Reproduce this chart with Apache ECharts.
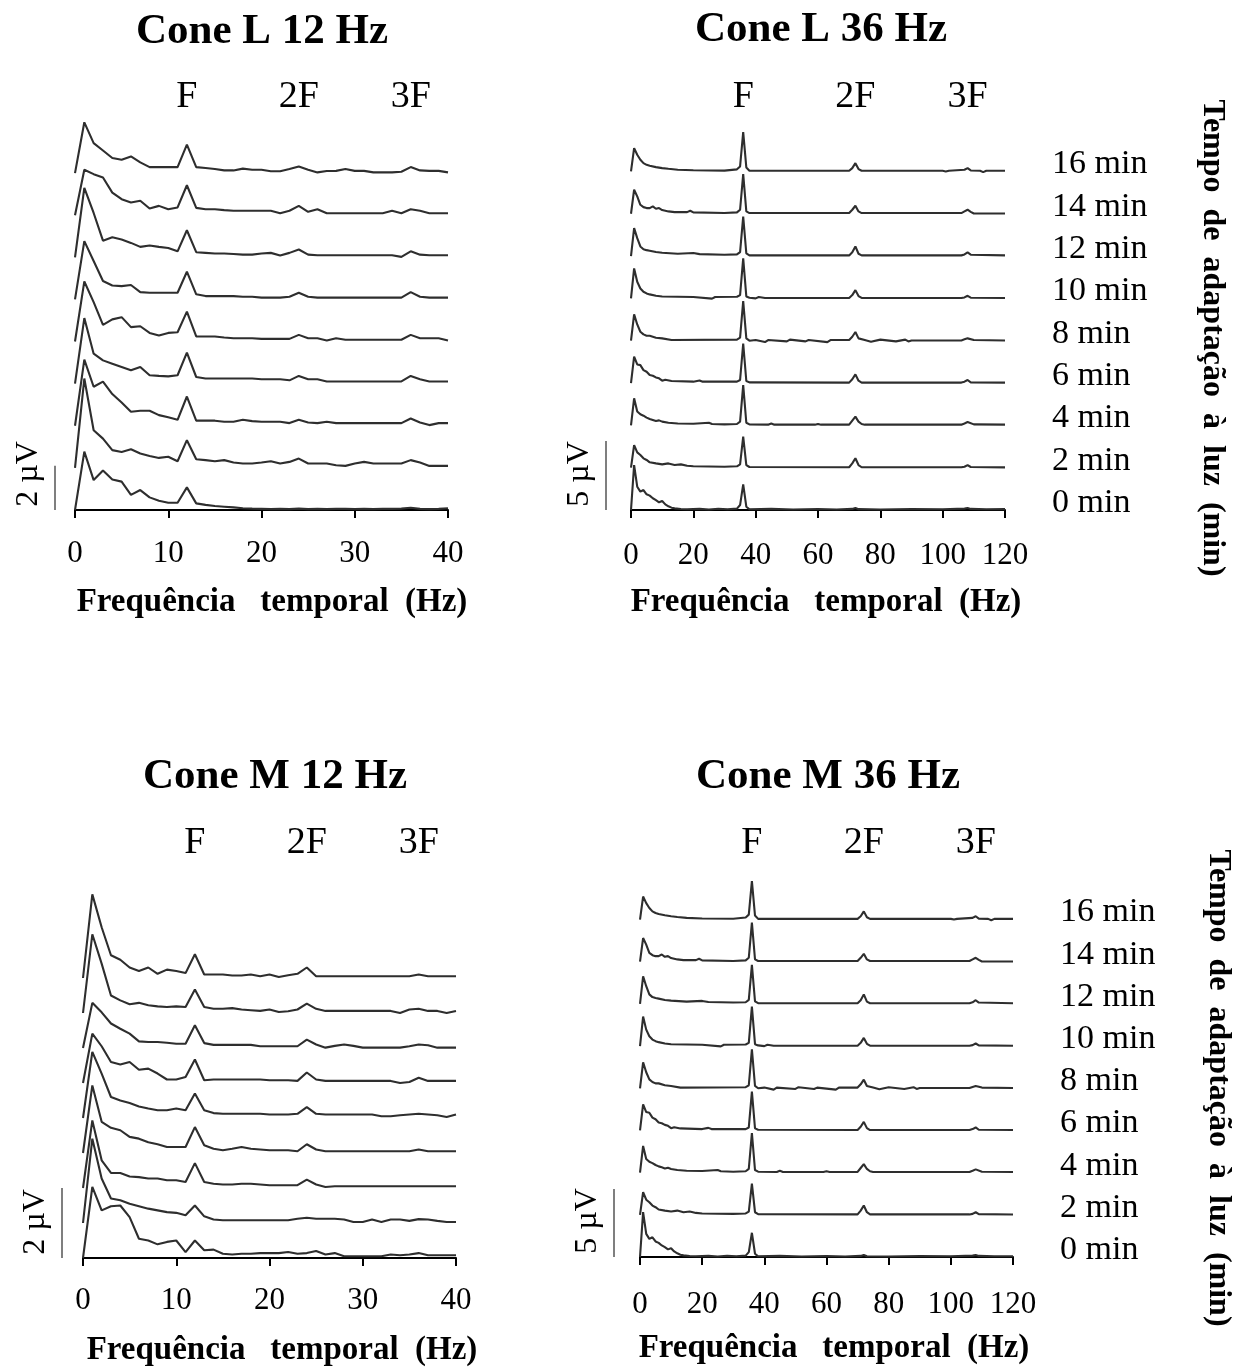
<!DOCTYPE html>
<html><head><meta charset="utf-8">
<script src="https://cdn.jsdelivr.net/npm/echarts@6/dist/echarts.min.js"></script>
<style>html,body{margin:0;padding:0;background:#fff}#c{width:1246px;height:1368px}</style>
</head><body><div id="c"></div>
<script>
// ---------- categories / labels ----------
const MIN_LABELS = ['0 min','2 min','4 min','6 min','8 min','10 min','12 min','14 min','16 min'];
const HARM_LABELS = ['F','2F','3F'];
const AXIS_NAME = 'Frequência   temporal  (Hz)';
const ADAPT_NAME = 'Tempo  de  adaptação  à  luz  (min)';
const TITLES = ['Cone L 12 Hz','Cone L 36 Hz','Cone M 12 Hz','Cone M 36 Hz'];

// ---------- Cone L 12 Hz : amplitude (µV) at 0,1,2,...,40 Hz ----------
const L12_0  = [0,2.63,1.35,1.78,1.38,1.28,0.68,0.90,0.57,0.42,0.33,0.33,1.02,0.30,0.23,0.18,0.15,0.12,0.08,0.06,0.05,0.04,0.05,0.04,0.06,0.04,0.05,0.04,0.05,0.05,0.04,0.05,0.04,0.05,0.05,0.06,0.10,0.05,0.04,0.05,0.08];
const L12_2  = [0,4.03,1.70,1.32,0.80,0.72,0.84,0.65,0.54,0.45,0.50,0.30,1.25,0.39,0.35,0.30,0.35,0.24,0.20,0.20,0.24,0.30,0.20,0.27,0.42,0.20,0.20,0.20,0.12,0.09,0.20,0.27,0.20,0.20,0.20,0.20,0.35,0.24,0.09,0.09,0.09];
const L12_4  = [0,2.98,1.76,1.99,1.43,1.05,0.63,0.68,0.68,0.48,0.38,0.27,1.32,0.23,0.23,0.23,0.18,0.18,0.27,0.21,0.18,0.18,0.18,0.12,0.27,0.15,0.12,0.18,0.12,0.12,0.12,0.12,0.12,0.12,0.12,0.12,0.33,0.15,0.03,0.12,0.12];
const L12_6  = [0,2.96,1.35,1.05,0.90,0.75,0.60,0.75,0.38,0.35,0.33,0.38,1.40,0.30,0.23,0.23,0.23,0.23,0.23,0.23,0.20,0.20,0.20,0.15,0.35,0.20,0.20,0.10,0.10,0.10,0.10,0.10,0.10,0.10,0.10,0.10,0.35,0.20,0.10,0.10,0.10];
const L12_8  = [0,2.71,1.78,0.75,1.00,1.10,0.65,0.69,0.39,0.27,0.39,0.42,1.35,0.23,0.23,0.23,0.18,0.15,0.15,0.15,0.12,0.12,0.12,0.12,0.30,0.15,0.15,0.05,0.15,0.08,0.08,0.08,0.08,0.08,0.08,0.08,0.30,0.15,0.15,0.15,0.05];
const L12_10 = [0,2.63,1.73,0.83,0.63,0.60,0.65,0.33,0.30,0.30,0.30,0.30,1.25,0.23,0.15,0.15,0.15,0.15,0.12,0.12,0.08,0.08,0.08,0.12,0.30,0.12,0.08,0.08,0.08,0.08,0.08,0.08,0.08,0.08,0.08,0.08,0.33,0.12,0.08,0.08,0.08];
const L12_12 = [0,3.13,2.00,0.75,0.90,0.80,0.65,0.47,0.53,0.47,0.42,0.27,1.22,0.23,0.20,0.17,0.17,0.15,0.12,0.12,0.17,0.20,0.08,0.20,0.35,0.12,0.09,0.09,0.09,0.09,0.09,0.09,0.09,0.09,0.09,0.02,0.27,0.12,0.09,0.09,0.09];
const L12_14 = [0,2.05,1.85,1.70,1.02,0.72,0.57,0.65,0.30,0.42,0.27,0.35,1.35,0.33,0.27,0.27,0.23,0.20,0.20,0.20,0.20,0.20,0.09,0.20,0.42,0.15,0.27,0.09,0.09,0.09,0.09,0.09,0.09,0.09,0.20,0.09,0.27,0.20,0.09,0.09,0.09];
const L12_16 = [0,2.29,1.35,1.02,0.68,0.60,0.75,0.48,0.27,0.27,0.27,0.27,1.28,0.27,0.23,0.18,0.12,0.12,0.20,0.15,0.15,0.08,0.08,0.18,0.30,0.15,0.03,0.09,0.10,0.18,0.10,0.10,0.03,0.03,0.03,0.06,0.27,0.12,0.10,0.10,0.03];

// ---------- Cone M 12 Hz : amplitude (µV) at 0,1,2,...,40 Hz ----------
const M12_0  = [0,2.03,1.36,1.48,1.50,1.17,0.55,0.50,0.39,0.46,0.50,0.17,0.50,0.22,0.24,0.12,0.10,0.12,0.12,0.14,0.14,0.14,0.17,0.12,0.14,0.20,0.10,0.14,0.05,0.05,0.05,0.05,0.05,0.10,0.08,0.10,0.14,0.08,0.08,0.08,0.08];
const M12_2  = [0,2.41,1.27,0.70,0.65,0.55,0.48,0.41,0.36,0.31,0.29,0.22,0.50,0.19,0.10,0.08,0.08,0.08,0.08,0.08,0.08,0.08,0.08,0.12,0.15,0.12,0.12,0.12,0.10,0.03,0.03,0.10,0.03,0.10,0.10,0.06,0.11,0.10,0.06,0.03,0.03];
const M12_4  = [0,1.93,0.79,0.43,0.43,0.33,0.31,0.27,0.27,0.22,0.22,0.17,0.71,0.17,0.12,0.10,0.10,0.12,0.12,0.10,0.08,0.08,0.08,0.08,0.24,0.10,0.03,0.05,0.05,0.05,0.05,0.05,0.05,0.05,0.05,0.05,0.05,0.05,0.05,0.05,0.05];
const M12_6  = [0,1.93,0.89,0.72,0.65,0.46,0.41,0.31,0.25,0.17,0.17,0.17,0.74,0.22,0.12,0.08,0.12,0.17,0.12,0.10,0.08,0.08,0.08,0.05,0.25,0.10,0.05,0.05,0.05,0.05,0.05,0.05,0.05,0.05,0.05,0.05,0.10,0.05,0.05,0.05,0.05];
const M12_8  = [0,1.89,1.27,0.60,0.50,0.43,0.33,0.27,0.22,0.22,0.27,0.22,0.70,0.22,0.14,0.12,0.12,0.12,0.12,0.12,0.10,0.10,0.10,0.12,0.31,0.12,0.10,0.10,0.10,0.10,0.10,0.10,0.05,0.05,0.08,0.10,0.12,0.10,0.08,0.03,0.10];
const M12_10 = [0,1.41,1.05,0.60,0.53,0.60,0.38,0.41,0.27,0.10,0.10,0.17,0.67,0.08,0.10,0.10,0.10,0.10,0.10,0.10,0.08,0.08,0.08,0.06,0.30,0.10,0.06,0.06,0.06,0.06,0.06,0.06,0.06,0.06,0.00,0.03,0.15,0.06,0.06,0.06,0.06];
const M12_12 = [0,1.29,1.02,0.70,0.55,0.41,0.19,0.17,0.17,0.15,0.12,0.12,0.65,0.14,0.09,0.09,0.09,0.09,0.09,0.05,0.05,0.05,0.05,0.05,0.24,0.10,0.01,0.06,0.10,0.06,0.01,0.01,0.01,0.01,0.01,0.05,0.10,0.08,0.01,0.01,0.01];
const M12_14 = [0,2.25,1.41,0.50,0.36,0.25,0.29,0.22,0.19,0.17,0.19,0.17,0.67,0.17,0.12,0.12,0.14,0.10,0.08,0.06,0.10,0.03,0.05,0.10,0.27,0.12,0.06,0.06,0.06,0.06,0.06,0.06,0.06,0.06,0.00,0.10,0.12,0.06,0.06,0.00,0.06];
const M12_16 = [0,2.39,1.45,0.65,0.52,0.30,0.20,0.30,0.12,0.24,0.20,0.14,0.68,0.10,0.10,0.10,0.07,0.07,0.10,0.05,0.10,0.03,0.08,0.12,0.30,0.05,0.05,0.05,0.05,0.05,0.05,0.05,0.05,0.05,0.05,0.05,0.10,0.05,0.05,0.05,0.05];

// ---------- Cone L 36 Hz : [Hz, µV] ----------
const L36_0  = [[0,0],[1,3.26],[2,1.69],[3,1.33],[4,1.45],[5,1.14],[6,1.04],[7,0.85],[8,0.72],[9,0.56],[10,0.65],[11,0.41],[12,0.27],[13,0.17],[14,0.12],[16,0.07],[18,0.05],[22,0.08],[25,0.04],[28,0.09],[31,0.05],[34,0.10],[35,0.36],[36,1.86],[37,0.24],[38,0.05],[45,0.08],[52,0.04],[60,0.07],[66,0.04],[71,0.08],[72,0.15],[73,0.06],[80,0.04],[90,0.07],[100,0.05],[107,0.10],[108,0.14],[109,0.08],[114,0.05],[120,0.06]];
const L36_2  = [[0,0],[1,1.64],[2,1.11],[3,0.92],[4,0.68],[5,0.56],[6,0.39],[8,0.31],[10,0.24],[12,0.31],[14,0.19],[16,0.24],[18,0.14],[20,0.10],[30,0.07],[34,0.10],[35,0.24],[36,2.25],[37,0.19],[38,0.05],[70,0.03],[71,0.31],[72,0.68],[73,0.19],[74,0.03],[106,0.03],[107,0.07],[108,0.19],[109,0.05],[120,0.02]];
const L36_4  = [[0,0],[1,1.96],[2,1.00],[3,0.80],[4,0.70],[5,0.56],[6,0.46],[7,0.39],[8,0.31],[9,0.36],[10,0.27],[12,0.19],[15,0.14],[20,0.12],[25,0.19],[26,0.10],[30,0.07],[34,0.10],[35,0.27],[36,2.92],[37,0.19],[38,0.07],[44,0.05],[45,0.14],[46,0.05],[59,0.05],[60,0.10],[61,0.05],[70,0.05],[71,0.34],[72,0.63],[73,0.27],[74,0.10],[75,0.05],[106,0.05],[107,0.14],[108,0.24],[110,0.07],[120,0.05]];
const L36_6  = [[0,0],[1,1.91],[2,1.35],[3,1.30],[4,0.94],[5,0.82],[6,0.58],[7,0.53],[8,0.41],[9,0.34],[10,0.17],[11,0.24],[13,0.15],[20,0.10],[22,0.19],[23,0.10],[34,0.10],[35,0.22],[36,2.87],[37,0.15],[38,0.05],[70,0.03],[71,0.27],[72,0.63],[73,0.17],[74,0.03],[106,0.03],[107,0.10],[108,0.22],[109,0.05],[120,0.03]];
const L36_8  = [[0,0],[1,1.91],[2,1.18],[3,0.65],[4,0.46],[5,0.36],[6,0.36],[8,0.22],[10,0.17],[13,0.05],[34,0.08],[35,0.22],[36,2.87],[37,0.17],[38,0.00],[40,0.05],[43,-0.10],[44,0.05],[50,-0.05],[51,0.08],[56,-0.05],[57,0.05],[63,-0.10],[64,0.05],[70,0.05],[71,0.29],[72,0.63],[73,0.17],[75,0.05],[77,-0.07],[80,0.08],[85,-0.05],[88,0.08],[89,-0.05],[90,0.02],[106,0.02],[107,0.10],[108,0.17],[110,0.05],[120,0.02]];
const L36_10 = [[0,0],[1,2.17],[2,1.21],[3,0.72],[4,0.48],[5,0.36],[6,0.29],[8,0.19],[10,0.14],[20,0.10],[26,-0.02],[27,0.10],[34,0.12],[35,0.24],[36,2.90],[37,0.14],[38,0.05],[40,0.00],[41,0.10],[43,0.03],[70,0.03],[71,0.24],[72,0.60],[73,0.17],[74,0.03],[106,0.03],[107,0.07],[108,0.19],[109,0.05],[120,0.03]];
const L36_12 = [[0,0],[1,2.03],[2,1.30],[3,0.70],[4,0.50],[5,0.43],[6,0.39],[8,0.29],[10,0.24],[15,0.17],[20,0.22],[22,0.14],[30,0.10],[34,0.12],[35,0.29],[36,2.87],[37,0.19],[38,0.05],[70,0.05],[71,0.27],[72,0.70],[73,0.17],[74,0.05],[106,0.05],[107,0.12],[108,0.27],[109,0.10],[120,0.05]];
const L36_14 = [[0,0],[1,1.74],[2,1.26],[3,0.65],[4,0.48],[5,0.41],[6,0.41],[7,0.53],[8,0.36],[9,0.41],[10,0.27],[12,0.17],[14,0.12],[18,0.12],[19,0.22],[20,0.10],[30,0.05],[34,0.10],[35,0.29],[36,2.87],[37,0.17],[38,0.05],[70,0.05],[71,0.29],[72,0.58],[73,0.17],[74,0.05],[106,0.05],[107,0.17],[108,0.29],[109,0.14],[110,0.02],[120,0.02]];
const L36_16 = [[0,0],[1,1.69],[2,1.21],[3,0.85],[4,0.60],[5,0.48],[6,0.41],[8,0.31],[10,0.24],[12,0.19],[15,0.12],[20,0.08],[30,0.06],[34,0.15],[35,0.36],[36,2.85],[37,0.29],[38,0.05],[70,0.05],[71,0.24],[72,0.60],[73,0.17],[74,0.05],[100,0.05],[101,0.00],[102,0.05],[107,0.12],[108,0.24],[109,0.07],[112,0.05],[113,-0.05],[114,0.05],[120,0.05]];

// ---------- Cone M 36 Hz : [Hz, µV] ----------
const M36_0  = [[0,0],[1,3.30],[2,1.70],[3,1.33],[4,1.45],[5,1.14],[6,1.04],[7,0.85],[8,0.72],[9,0.56],[10,0.65],[11,0.41],[12,0.27],[13,0.17],[14,0.12],[16,0.07],[18,0.05],[22,0.08],[25,0.04],[28,0.09],[31,0.05],[34,0.10],[35,0.36],[36,1.78],[37,0.24],[38,0.05],[45,0.08],[52,0.04],[60,0.07],[66,0.04],[71,0.08],[72,0.15],[73,0.06],[80,0.04],[90,0.07],[100,0.05],[107,0.10],[108,0.14],[109,0.08],[114,0.05],[120,0.06]];
const M36_2  = [[0,0],[1,1.66],[2,1.11],[3,0.92],[4,0.68],[5,0.56],[6,0.39],[8,0.31],[10,0.24],[12,0.31],[14,0.19],[16,0.24],[18,0.14],[20,0.10],[30,0.07],[34,0.10],[35,0.24],[36,2.30],[37,0.19],[38,0.05],[70,0.03],[71,0.31],[72,0.68],[73,0.19],[74,0.03],[106,0.03],[107,0.07],[108,0.19],[109,0.05],[120,0.02]];
const M36_4  = [[0,0],[1,1.96],[2,1.00],[3,0.80],[4,0.70],[5,0.56],[6,0.46],[7,0.39],[8,0.31],[9,0.36],[10,0.27],[12,0.19],[15,0.14],[20,0.12],[25,0.19],[26,0.10],[30,0.07],[34,0.10],[35,0.27],[36,2.90],[37,0.19],[38,0.07],[44,0.05],[45,0.14],[46,0.05],[59,0.05],[60,0.10],[61,0.05],[70,0.05],[71,0.34],[72,0.63],[73,0.27],[74,0.10],[75,0.05],[106,0.05],[107,0.14],[108,0.24],[110,0.07],[120,0.05]];
const M36_6  = [[0,0],[1,1.91],[2,1.35],[3,1.30],[4,0.94],[5,0.82],[6,0.58],[7,0.53],[8,0.41],[9,0.34],[10,0.17],[11,0.24],[13,0.15],[20,0.10],[22,0.19],[23,0.10],[34,0.10],[35,0.22],[36,2.85],[37,0.15],[38,0.05],[70,0.03],[71,0.27],[72,0.63],[73,0.17],[74,0.03],[106,0.03],[107,0.10],[108,0.22],[109,0.05],[120,0.03]];
const M36_8  = [[0,0],[1,1.91],[2,1.18],[3,0.65],[4,0.46],[5,0.36],[6,0.36],[8,0.22],[10,0.17],[13,0.05],[34,0.08],[35,0.22],[36,2.87],[37,0.17],[38,0.00],[40,0.05],[43,-0.10],[44,0.05],[50,-0.05],[51,0.08],[56,-0.05],[57,0.05],[63,-0.10],[64,0.05],[70,0.05],[71,0.29],[72,0.63],[73,0.17],[75,0.05],[77,-0.07],[80,0.08],[85,-0.05],[88,0.08],[89,-0.05],[90,0.02],[106,0.02],[107,0.10],[108,0.17],[110,0.05],[120,0.02]];
const M36_10 = [[0,0],[1,2.17],[2,1.21],[3,0.72],[4,0.48],[5,0.36],[6,0.29],[8,0.19],[10,0.14],[20,0.10],[26,-0.02],[27,0.10],[34,0.12],[35,0.24],[36,2.90],[37,0.14],[38,0.05],[40,0.00],[41,0.10],[43,0.03],[70,0.03],[71,0.24],[72,0.60],[73,0.17],[74,0.03],[106,0.03],[107,0.07],[108,0.19],[109,0.05],[120,0.03]];
const M36_12 = [[0,0],[1,2.03],[2,1.30],[3,0.70],[4,0.50],[5,0.43],[6,0.39],[8,0.29],[10,0.24],[15,0.17],[20,0.22],[22,0.14],[30,0.10],[34,0.12],[35,0.29],[36,2.87],[37,0.19],[38,0.05],[70,0.05],[71,0.27],[72,0.70],[73,0.17],[74,0.05],[106,0.05],[107,0.12],[108,0.27],[109,0.10],[120,0.05]];
const M36_14 = [[0,0],[1,1.74],[2,1.26],[3,0.65],[4,0.48],[5,0.41],[6,0.41],[7,0.53],[8,0.36],[9,0.41],[10,0.27],[12,0.17],[14,0.12],[18,0.12],[19,0.22],[20,0.10],[30,0.05],[34,0.10],[35,0.29],[36,2.87],[37,0.17],[38,0.05],[70,0.05],[71,0.29],[72,0.58],[73,0.17],[74,0.05],[106,0.05],[107,0.17],[108,0.29],[109,0.14],[110,0.02],[120,0.02]];
const M36_16 = [[0,0],[1,1.69],[2,1.21],[3,0.85],[4,0.60],[5,0.48],[6,0.41],[8,0.31],[10,0.24],[12,0.19],[15,0.12],[20,0.08],[30,0.06],[34,0.15],[35,0.36],[36,2.82],[37,0.29],[38,0.05],[70,0.05],[71,0.24],[72,0.60],[73,0.17],[74,0.05],[100,0.05],[101,0.00],[102,0.05],[107,0.12],[108,0.24],[109,0.07],[112,0.05],[113,-0.05],[114,0.05],[120,0.05]];

// ---------- layout / style ----------
const FONT = '"Liberation Serif","Times New Roman",serif';
const INK = '#000';
const TRACE = '#2e2e2e';

const PANELS = [
  { traces:[L12_0,L12_2,L12_4,L12_6,L12_8,L12_10,L12_12,L12_14,L12_16], byIndex:true, step:1.9,
    grid:{left:75, top:111, width:373, height:399}, xmax:40, xint:10, ymax:18, margin:28,
    bar:2, barText:'2 µV', barDx:20, harm:12, harmY:97, titlePos:[262,32], namePos:[272,602] },
  { traces:[L36_0,L36_2,L36_4,L36_6,L36_8,L36_10,L36_12,L36_14,L36_16], byIndex:false, step:3.07,
    grid:{left:631, top:124, width:374, height:386}, xmax:120, xint:20, ymax:28, margin:30,
    bar:5, barText:'5 µV', barDx:25, harm:36, harmY:97, titlePos:[821,30], namePos:[826,602],
    minLabels:true, adaptPos:[1212,338] },
  { traces:[M12_0,M12_2,M12_4,M12_6,M12_8,M12_10,M12_12,M12_14,M12_16], byIndex:true, step:1.0,
    grid:{left:83, top:880, width:373, height:378}, xmax:40, xint:10, ymax:10.8, margin:27,
    bar:2, barText:'2 µV', barDx:21, harm:12, harmY:843, titlePos:[275,777], namePos:[282,1350] },
  { traces:[M36_0,M36_2,M36_4,M36_6,M36_8,M36_10,M36_12,M36_14,M36_16], byIndex:false, step:3.1,
    grid:{left:640, top:876, width:373, height:381}, xmax:120, xint:20, ymax:28, margin:32,
    bar:5, barText:'5 µV', barDx:26, harm:36, harmY:843, titlePos:[828,777], namePos:[834,1348],
    minLabels:true, adaptPos:[1218,1088] }
];

const chart = echarts.init(document.getElementById('c'), null, {renderer:'canvas'});

const grids = [], xAxes = [], yAxes = [], series = [];
PANELS.forEach((p, k) => {
  grids.push(Object.assign({containLabel:false}, p.grid));
  xAxes.push({
    type:'value', gridIndex:k, min:0, max:p.xmax, interval:p.xint,
    axisLine:{show:true, onZero:false, lineStyle:{color:INK, width:2}},
    axisTick:{show:true, inside:false, length:8, lineStyle:{color:INK, width:2}},
    axisLabel:{show:true, margin:p.margin, color:INK, fontSize:31, fontFamily:FONT, showMinLabel:true, showMaxLabel:true},
    splitLine:{show:false}
  });
  yAxes.push({type:'value', gridIndex:k, min:0, max:p.ymax, show:false, splitLine:{show:false}});
  p.traces.forEach((tr, i) => {
    const off = i * p.step;
    const data = p.byIndex ? tr.map((v, h) => [h, v + off]) : tr.map(([h, v]) => [h, v + off]);
    series.push({
      type:'line', name:MIN_LABELS[i], xAxisIndex:k, yAxisIndex:k, data,
      symbol:'none', showSymbol:false, clip:false, silent:true, animation:false,
      lineStyle:{color:TRACE, width:2.1}, z:3
    });
  });
});

chart.setOption({animation:false, backgroundColor:'#fff', grid:grids, xAxis:xAxes, yAxis:yAxes, series});

function txt(str, x, y, size, weight, rot, align) {
  return { type:'text', x, y, rotation: rot || 0, silent:true, z:10,
    style:{ text:str, fill:INK, fontSize:size, fontFamily:FONT, fontWeight:weight || 'normal',
      textAlign: align || 'center', textVerticalAlign:'middle', align: align || 'center', verticalAlign:'middle' } };
}

const graphics = [];
PANELS.forEach((p, k) => {
  const px = (x, y) => chart.convertToPixel({gridIndex:k}, [x, y]);
  graphics.push(txt(TITLES[k], p.titlePos[0], p.titlePos[1], 43, 'bold'));
  HARM_LABELS.forEach((t, j) => {
    const [hx] = px(p.harm * (j + 1), 0);
    graphics.push(txt(t, hx, p.harmY, 38));
  });
  const [bx, by0] = px(0, 0);
  const [, by1] = px(0, p.bar);
  const sx = bx - p.barDx;
  graphics.push({ type:'line', silent:true, z:10, shape:{x1:sx, y1:by0, x2:sx, y2:by1}, style:{stroke:'#555', lineWidth:1.5} });
  graphics.push(txt(p.barText, sx - 26, by0 - 36, 32, 'normal', Math.PI / 2));
  graphics.push(txt(AXIS_NAME, p.namePos[0], p.namePos[1], 33, 'bold'));
  if (p.minLabels) {
    MIN_LABELS.forEach((t, i) => {
      const [lx, ly] = px(p.xmax, i * p.step);
      graphics.push(txt(t, lx + 47, ly - 7, 34, 'normal', 0, 'left'));
    });
    graphics.push(txt(ADAPT_NAME, p.adaptPos[0], p.adaptPos[1], 32, 'bold', -Math.PI / 2));
  }
});
chart.setOption({graphic: graphics});
</script></body></html>
